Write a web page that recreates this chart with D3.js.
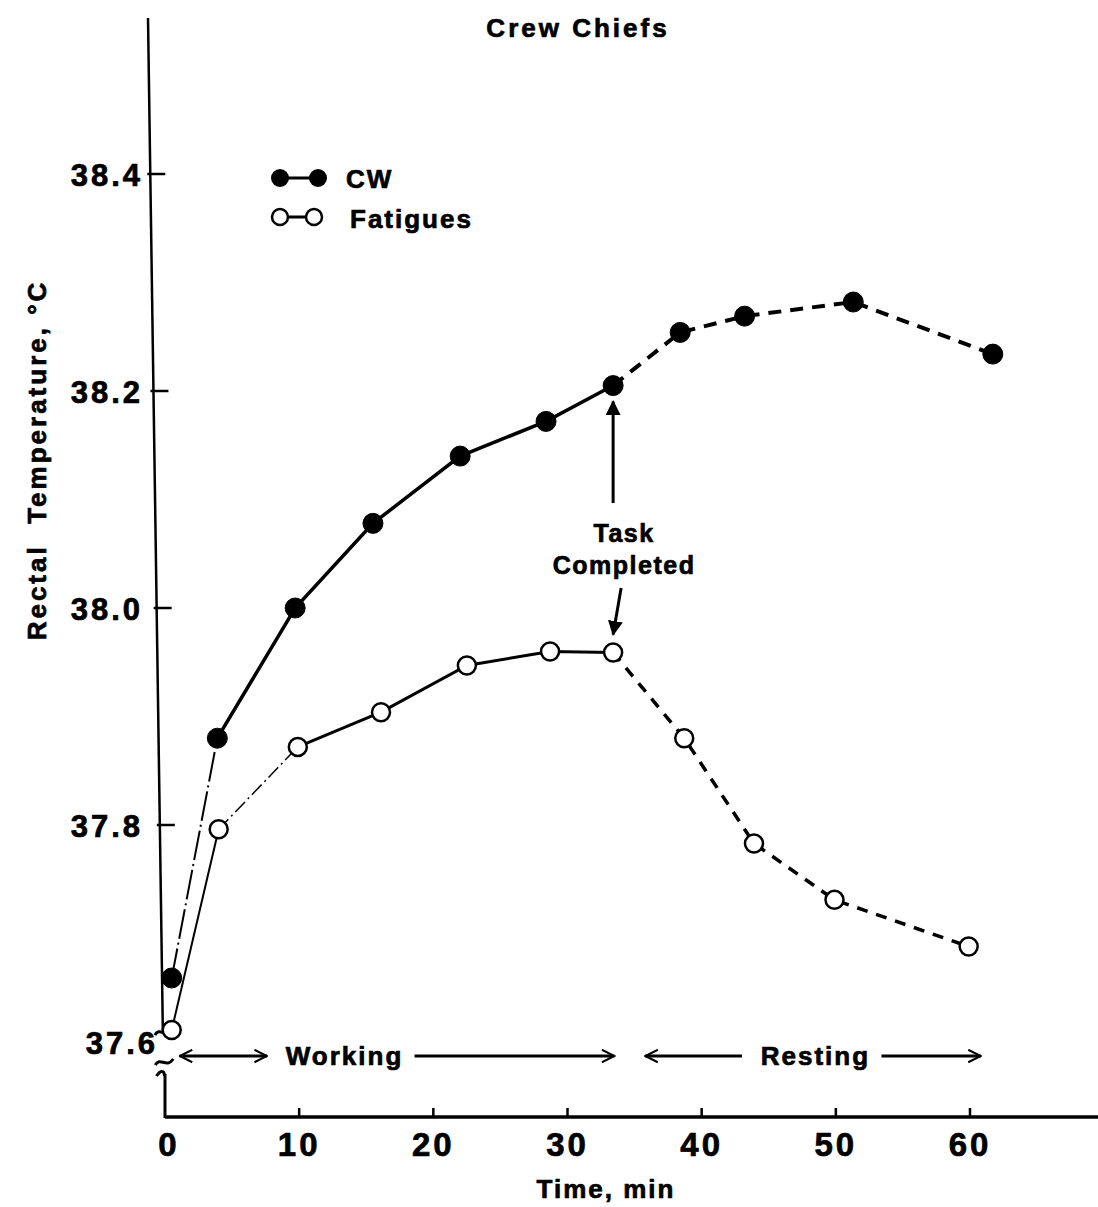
<!DOCTYPE html>
<html>
<head>
<meta charset="utf-8">
<script src="https://cdn.jsdelivr.net/npm/d3@7"></script>
<style>
  body { margin: 0; background: #fff; }
  svg { display: block; }
  text { font-family: "Liberation Sans", Arial, sans-serif; font-weight: bold; fill: #000; stroke: #000; stroke-width: 0.7px; }
</style>
</head>
<body>
<svg id="chart" width="1098" height="1207"></svg>
<script>
// values
const minutesCW = [0.5, 3.9, 9.7, 15.5, 22.0, 28.4, 33.4, 38.4, 43.2, 51.3, 61.7];
const tempCW = [37.659, 37.880, 38.000, 38.078, 38.140, 38.172, 38.205, 38.254, 38.269, 38.282, 38.234];
const minutesFat = [0.5, 4.0, 9.9, 16.1, 22.5, 28.7, 33.4, 38.7, 43.9, 49.9, 59.9];
const tempFat = [37.611, 37.796, 37.872, 37.904, 37.947, 37.960, 37.959, 37.880, 37.783, 37.731, 37.688];
const xTicks = [0, 10, 20, 30, 40, 50, 60];
const yTicks = [37.6, 37.8, 38.0, 38.2, 38.4];
const taskEnd = 33.4;

const svg = d3.select('#chart');
const x = d3.scaleLinear().domain([0, 60]).range([165, 970]);
const y = d3.scaleLinear().domain([37.6, 38.4]).range([1042, 174]);

// the scanned y axis leans a little
const axisX = py => 148 + (py - 18) * 15 / 1024;
const baseY = 1117;

// y axis, upper part
svg.append('line')
    .attr('x1', axisX(18)).attr('y1', 18)
    .attr('x2', axisX(1030)).attr('y2', 1030)
    .attr('stroke', '#000').attr('stroke-width', 2.5);
// lower stub below the break
svg.append('line')
    .attr('x1', 165).attr('y1', 1074)
    .attr('x2', 165).attr('y2', baseY + 1)
    .attr('stroke', '#000').attr('stroke-width', 3);
// break marks
[1032, 1062, 1074].forEach((by, i) => {
    const bx = axisX(by) + 1;
    const d = i === 2
        ? `M${bx - 8},${by + 2} C${bx - 4},${by - 4} ${bx},${by - 4} ${bx},${by + 2}`
        : `M${bx - 9},${by + 3} C${bx - 4},${by - 6} ${bx + 2},${by + 7} ${bx + 9},${by - 3}`;
    svg.append('path')
        .attr('d', d)
        .attr('fill', 'none').attr('stroke', '#000').attr('stroke-width', 3);
});

// y ticks + labels
yTicks.forEach(t => {
    const py = y(t);
    const ax = axisX(py);
    if (t > 37.6) {
        svg.append('line')
            .attr('x1', ax - 3).attr('x2', ax + 15)
            .attr('y1', py).attr('y2', py)
            .attr('stroke', '#000').attr('stroke-width', 2.5);
    }
    svg.append('text')
        .attr('x', t === 37.6 ? 158 : 143)
        .attr('y', py + 12)
        .attr('text-anchor', 'end')
        .attr('font-size', 31)
        .attr('letter-spacing', 3)
        .text(t.toFixed(1));
});

// x axis
svg.append('line')
    .attr('x1', 165).attr('x2', 1098)
    .attr('y1', baseY).attr('y2', baseY)
    .attr('stroke', '#000').attr('stroke-width', 3.5);
xTicks.forEach(t => {
    if (t > 0) {
        svg.append('line')
            .attr('x1', x(t)).attr('x2', x(t))
            .attr('y1', baseY).attr('y2', baseY - 9)
            .attr('stroke', '#000').attr('stroke-width', 2.5);
    }
    svg.append('text')
        .attr('x', x(t) + (t === 0 ? 4 : 0))
        .attr('y', baseY + 39)
        .attr('text-anchor', 'middle')
        .attr('font-size', 33)
        .attr('letter-spacing', 3)
        .text(t);
});

// axis titles
svg.append('text')
    .attr('x', 606).attr('y', 1198)
    .attr('text-anchor', 'middle')
    .attr('font-size', 26).attr('letter-spacing', 2)
    .text('Time, min');
svg.append('text')
    .attr('transform', 'translate(46,460) rotate(-90)')
    .attr('text-anchor', 'middle')
    .attr('font-size', 26).attr('letter-spacing', 3)
    .attr('xml:space', 'preserve')
    .text('Rectal  Temperature, °C');
svg.append('text')
    .attr('x', 578).attr('y', 37)
    .attr('text-anchor', 'middle')
    .attr('font-size', 26).attr('letter-spacing', 3)
    .text('Crew Chiefs');

// series lines, split by style
const line = d3.line().x(d => x(d[0])).y(d => y(d[1]));
function drawSeries(mins, temps, styles, filled) {
    const pts = mins.map((m, i) => [m, temps[i]]);
    styles.forEach(s => {
        svg.append('path')
            .datum(pts.slice(s.from, s.to + 1))
            .attr('d', line)
            .attr('fill', 'none')
            .attr('stroke', '#000')
            .attr('stroke-width', s.w)
            .attr('stroke-dasharray', s.dash || null);
    });
    svg.selectAll(null)
        .data(pts)
        .enter().append('circle')
        .attr('cx', d => x(d[0]))
        .attr('cy', d => y(d[1]))
        .attr('r', filled ? 10 : 9)
        .attr('fill', filled ? '#000' : '#fff')
        .attr('stroke', '#000')
        .attr('stroke-width', filled ? 1 : 2.5);
}
const iEnd = minutesCW.indexOf(taskEnd);
drawSeries(minutesFat, tempFat, [
    { from: 0, to: 1, w: 2 },
    { from: 1, to: 2, w: 1.5, dash: '14 4 2 4' },
    { from: 2, to: iEnd, w: 3 },
    { from: iEnd, to: minutesFat.length - 1, w: 3.5, dash: '11 9' }
], false);
drawSeries(minutesCW, tempCW, [
    { from: 0, to: 1, w: 2, dash: '30 4 2 4' },
    { from: 1, to: iEnd, w: 3.5 },
    { from: iEnd, to: minutesCW.length - 1, w: 4, dash: '13 9' }
], true);

// legend
const legend = svg.append('g');
legend.append('line').attr('x1', 280).attr('x2', 318).attr('y1', 178).attr('y2', 178)
    .attr('stroke', '#000').attr('stroke-width', 3);
[280, 318].forEach(cx => legend.append('circle').attr('cx', cx).attr('cy', 178).attr('r', 9).attr('fill', '#000'));
legend.append('line').attr('x1', 280).attr('x2', 314).attr('y1', 217).attr('y2', 217)
    .attr('stroke', '#000').attr('stroke-width', 3);
[280, 314].forEach(cx => legend.append('circle').attr('cx', cx).attr('cy', 217).attr('r', 8)
    .attr('fill', '#fff').attr('stroke', '#000').attr('stroke-width', 2.5));
legend.append('text').attr('x', 346).attr('y', 188).attr('font-size', 26).attr('letter-spacing', 2).text('CW');
legend.append('text').attr('x', 350).attr('y', 228).attr('font-size', 26).attr('letter-spacing', 2).text('Fatigues');

// task completed annotation
const defs = svg.append('defs');
defs.append('marker').attr('id', 'tri')
    .attr('viewBox', '0 0 10 10').attr('refX', 9).attr('refY', 5)
    .attr('markerWidth', 5).attr('markerHeight', 5).attr('orient', 'auto')
    .append('path').attr('d', 'M0,0 L10,5 L0,10 Z').attr('fill', '#000');
defs.append('marker').attr('id', 'chev')
    .attr('viewBox', '0 0 12 12').attr('refX', 11).attr('refY', 6)
    .attr('markerWidth', 5).attr('markerHeight', 5).attr('orient', 'auto-start-reverse')
    .attr('markerUnits', 'strokeWidth')
    .append('path').attr('d', 'M1,1 L11,6 L1,11').attr('fill', 'none').attr('stroke', '#000').attr('stroke-width', 1.6);

const tx = x(taskEnd);
svg.append('line').attr('x1', tx).attr('x2', tx).attr('y1', 503).attr('y2', y(38.205) + 16)
    .attr('stroke', '#000').attr('stroke-width', 3).attr('marker-end', 'url(#tri)');
svg.append('line').attr('x1', tx + 8).attr('x2', tx).attr('y1', 588).attr('y2', y(37.959) - 18)
    .attr('stroke', '#000').attr('stroke-width', 3).attr('marker-end', 'url(#tri)');
svg.append('text').attr('x', tx + 11).attr('y', 542).attr('text-anchor', 'middle')
    .attr('font-size', 25).attr('letter-spacing', 1.5).text('Task');
svg.append('text').attr('x', tx + 11).attr('y', 574).attr('text-anchor', 'middle')
    .attr('font-size', 25).attr('letter-spacing', 1.5).text('Completed');

// working / resting arrows
const phaseY = 1056;
function arrow(x1, x2, start, end) {
    svg.append('line').attr('x1', x1).attr('x2', x2).attr('y1', phaseY).attr('y2', phaseY)
        .attr('stroke', '#000').attr('stroke-width', 3)
        .attr('marker-start', start ? 'url(#chev)' : null)
        .attr('marker-end', end ? 'url(#chev)' : null);
}
arrow(x(1.1), x(7.6), true, true);
svg.append('text').attr('x', x(9.0)).attr('y', phaseY + 9).attr('font-size', 26).attr('letter-spacing', 2).text('Working');
arrow(x(18.6), x(33.5), false, true);
arrow(x(35.8), x(43.0), true, false);
svg.append('text').attr('x', x(44.4)).attr('y', phaseY + 9).attr('font-size', 26).attr('letter-spacing', 2).text('Resting');
arrow(x(53.4), x(60.8), false, true);
</script>
</body>
</html>
